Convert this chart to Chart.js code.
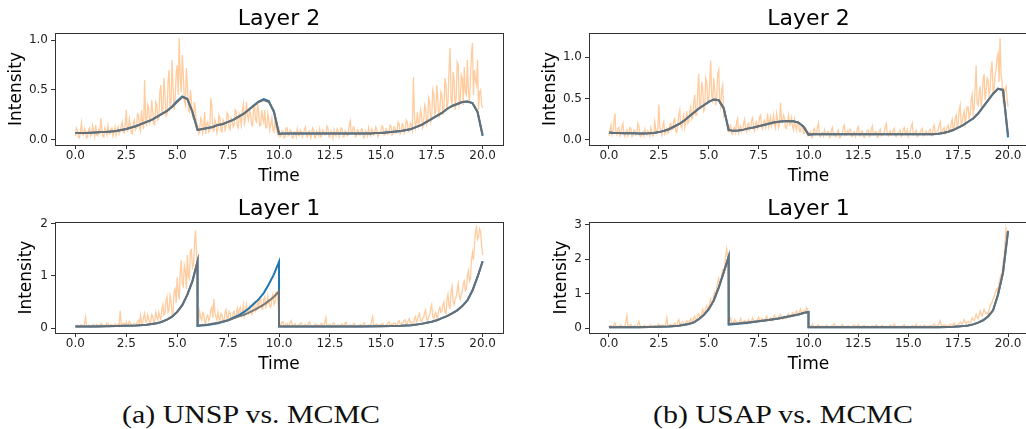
<!DOCTYPE html>
<html>
<head>
<meta charset="utf-8">
<script src="https://cdn.jsdelivr.net/npm/chart.js@4.4.1/dist/chart.umd.min.js"></script>
<style>
  html, body { margin: 0; padding: 0; background: #fff; overflow: hidden; }
  body { width: 1026px; height: 429px; position: relative; }
  canvas { position: absolute; }
  .caption {
    position: absolute; top: 402px; line-height: 26px; width: 400px;
    font-family: 'Liberation Serif', serif; font-size: 26px; color: #111;
    text-align: center; transform: scaleX(1.15);
  }
</style>
</head>
<body>
<canvas id="tl" width="510" height="190" style="left:0;top:0"></canvas>
<canvas id="tr" width="500" height="190" style="left:535px;top:0"></canvas>
<canvas id="bl" width="510" height="188" style="left:0;top:190px"></canvas>
<canvas id="br" width="500" height="188" style="left:535px;top:190px"></canvas>
<div class="caption" style="left:51px">(a) UNSP vs. MCMC</div>
<div class="caption" style="left:583px">(b) USAP vs. MCMC</div>
<script>
// sampling grids (time axis)
const sampleTimes = Array.from({ length: 401 }, (_, i) => i / 20);
const layer2CurveTimes = Array.from({ length: 81 }, (_, i) => i / 4);
const layer1CurveTimes = [0, 0.5, 1, 1.5, 2, 2.5, 3, 3.5, 4, 4.25, 4.5, 4.75, 5, 5.25, 5.5, 5.75, 6,
  6, 6.5, 7, 7.5, 8, 8.25, 8.5, 8.75, 9, 9.25, 9.5, 9.75, 10,
  10, 11, 12, 13, 14, 15, 16, 16.5, 17, 17.25, 17.5, 17.75, 18, 18.25, 18.5, 18.75, 19, 19.25, 19.5, 19.75, 20];

const xTicks = [0, 2.5, 5, 7.5, 10, 12.5, 15, 17.5, 20];
const layer2Ticks = [0, 0.5, 1.0];
const unspLayer1Ticks = [0, 1, 2];
const usapLayer1Ticks = [0, 1, 2, 3];

// (a) UNSP, layer 2  (one row per time unit)
const unspL2Samples = [
  0.04,0.12,0.10,0.03,0.02,0.09,0.17,0.05,0.05,0.11,0.08,0.02,0.03,0.10,0.12,0.04,0.06,0.14,0.09,0.03,
  0.15,0.05,0.04,0.10,0.07,0.22,0.11,0.04,0.03,0.12,0.09,0.05,0.14,0.07,0.06,0.11,0.12,0.04,0.08,0.13,
  0.05,0.10,0.13,0.06,0.09,0.14,0.18,0.08,0.07,0.16,0.30,0.09,0.10,0.21,0.14,0.07,0.06,0.17,0.20,0.10,
  0.12,0.26,0.25,0.13,0.09,0.30,0.18,0.11,0.60,0.22,0.14,0.35,0.32,0.17,0.20,0.40,0.28,0.16,0.15,0.38,
  0.35,0.20,0.22,0.48,0.55,0.28,0.30,0.62,0.45,0.24,0.25,0.58,0.70,0.33,0.38,0.80,0.52,0.30,0.42,0.66,
  0.75,0.45,1.02,0.60,0.48,0.85,0.65,0.40,0.35,0.72,0.55,0.30,0.28,0.50,0.40,0.22,0.22,0.38,0.30,0.12,
  0.15,0.06,0.08,0.22,0.20,0.07,0.12,0.28,0.06,0.15,0.18,0.08,0.10,0.42,0.35,0.10,0.09,0.20,0.16,0.07,
  0.12,0.25,0.22,0.09,0.08,0.20,0.18,0.10,0.14,0.27,0.25,0.12,0.10,0.22,0.20,0.13,0.15,0.30,0.28,0.14,
  0.12,0.26,0.22,0.15,0.30,0.36,0.16,0.20,0.38,0.25,0.20,0.30,0.26,0.15,0.14,0.32,0.34,0.20,0.18,0.36,
  0.28,0.14,0.15,0.30,0.22,0.18,0.30,0.12,0.12,0.26,0.20,0.10,0.16,0.22,0.10,0.08,0.18,0.12,0.08,0.05,
  0.10,0.03,0.04,0.09,0.08,0.02,0.03,0.12,0.12,0.04,0.05,0.10,0.09,0.02,0.02,0.08,0.07,0.03,0.11,0.05,
  0.04,0.10,0.08,0.03,0.06,0.11,0.13,0.04,0.03,0.08,0.09,0.02,0.05,0.12,0.10,0.03,0.02,0.09,0.07,0.04,
  0.11,0.03,0.04,0.10,0.08,0.05,0.05,0.14,0.12,0.03,0.03,0.09,0.07,0.02,0.10,0.06,0.04,0.11,0.09,0.03,
  0.06,0.12,0.11,0.03,0.03,0.09,0.08,0.04,0.05,0.15,0.19,0.06,0.07,0.13,0.12,0.03,0.04,0.10,0.09,0.05,
  0.05,0.11,0.10,0.02,0.03,0.09,0.08,0.04,0.12,0.06,0.04,0.11,0.09,0.05,0.06,0.13,0.11,0.03,0.05,0.08,
  0.08,0.14,0.13,0.05,0.05,0.11,0.10,0.06,0.07,0.15,0.14,0.05,0.06,0.13,0.12,0.07,0.09,0.18,0.16,0.06,
  0.08,0.16,0.14,0.07,0.11,0.20,0.18,0.08,0.09,0.17,0.15,0.10,0.63,0.25,0.12,0.18,0.28,0.14,0.18,0.30,
  0.24,0.12,0.15,0.35,0.32,0.16,0.20,0.42,0.38,0.18,0.22,0.50,0.45,0.25,0.28,0.55,0.40,0.22,0.30,0.48,
  0.45,0.25,0.32,0.62,0.55,0.30,0.38,0.70,0.92,0.40,0.35,0.68,0.60,0.30,0.42,0.78,0.75,0.35,0.40,0.65,
  0.62,0.35,0.73,0.48,0.45,0.80,0.50,0.38,0.60,0.85,0.97,0.45,0.70,0.60,0.55,0.80,0.30,0.48,0.50,0.35,
  0.32
];
const unspL2Blue = [
  0.07,0.07,0.07,0.072,0.075,0.078,0.08,0.085,0.09,0.10,
  0.11,0.125,0.14,0.16,0.18,0.20,0.23,0.26,0.29,0.335,
  0.39,0.435,0.41,0.28,0.10,0.11,0.12,0.13,0.15,0.16,
  0.18,0.20,0.23,0.26,0.30,0.345,0.385,0.41,0.39,0.28,
  0.06,0.065,0.065,0.065,0.065,0.065,0.065,0.065,0.065,0.065,
  0.065,0.065,0.065,0.065,0.065,0.065,0.065,0.065,0.065,0.068,
  0.07,0.075,0.08,0.085,0.09,0.10,0.11,0.13,0.15,0.18,
  0.21,0.24,0.27,0.31,0.34,0.36,0.38,0.385,0.37,0.28,
  0.04
];
const unspL2Gray = [
  0.07,0.07,0.07,0.072,0.075,0.078,0.08,0.085,0.09,0.10,
  0.11,0.125,0.14,0.16,0.18,0.20,0.23,0.26,0.29,0.33,
  0.38,0.43,0.41,0.28,0.10,0.11,0.12,0.13,0.15,0.16,
  0.18,0.20,0.23,0.26,0.30,0.34,0.38,0.40,0.38,0.29,
  0.065,0.065,0.065,0.065,0.065,0.065,0.065,0.065,0.065,0.065,
  0.065,0.065,0.065,0.065,0.065,0.065,0.065,0.065,0.065,0.068,
  0.07,0.075,0.08,0.085,0.09,0.10,0.11,0.13,0.15,0.18,
  0.21,0.24,0.27,0.31,0.34,0.36,0.38,0.385,0.37,0.28,
  0.05
];

// (b) USAP, layer 2
const usapL2Samples = [
  0.05,0.12,0.18,0.06,0.10,0.22,0.32,0.08,0.06,0.14,0.15,0.05,0.08,0.16,0.20,0.07,0.04,0.10,0.12,0.05,
  0.09,0.15,0.14,0.04,0.05,0.12,0.11,0.06,0.07,0.20,0.16,0.05,0.04,0.09,0.10,0.05,0.13,0.08,0.06,0.11,
  0.09,0.05,0.15,0.10,0.05,0.08,0.22,0.12,0.08,0.14,0.43,0.15,0.11,0.06,0.18,0.22,0.07,0.10,0.14,0.08,
  0.10,0.18,0.20,0.12,0.13,0.24,0.26,0.10,0.09,0.18,0.30,0.36,0.18,0.14,0.24,0.30,0.15,0.22,0.35,0.20,
  0.22,0.34,0.40,0.25,0.28,0.45,0.55,0.30,0.30,0.60,0.80,0.40,0.42,0.70,0.62,0.35,0.38,0.75,0.70,0.45,
  0.48,0.70,0.96,0.55,0.45,0.75,0.60,0.42,0.52,0.80,0.85,0.48,0.40,0.60,0.66,0.30,0.35,0.28,0.25,0.12,
  0.10,0.16,0.18,0.08,0.07,0.14,0.15,0.09,0.22,0.26,0.09,0.14,0.17,0.10,0.12,0.20,0.25,0.13,0.10,0.18,
  0.20,0.12,0.14,0.24,0.27,0.15,0.11,0.20,0.22,0.14,0.18,0.28,0.30,0.16,0.13,0.22,0.24,0.15,0.20,0.32,
  0.16,0.22,0.28,0.17,0.21,0.30,0.18,0.14,0.32,0.24,0.15,0.20,0.45,0.25,0.22,0.30,0.26,0.15,0.14,0.22,
  0.30,0.18,0.20,0.27,0.16,0.12,0.25,0.18,0.12,0.20,0.22,0.10,0.10,0.18,0.18,0.08,0.08,0.14,0.12,0.05,
  0.05,0.09,0.10,0.03,0.03,0.12,0.14,0.06,0.07,0.16,0.20,0.05,0.04,0.08,0.09,0.05,0.12,0.07,0.06,0.10,
  0.10,0.03,0.04,0.12,0.15,0.06,0.08,0.04,0.05,0.10,0.12,0.03,0.03,0.07,0.09,0.16,0.18,0.05,0.06,0.11,
  0.08,0.12,0.13,0.05,0.04,0.09,0.10,0.04,0.07,0.14,0.16,0.05,0.05,0.10,0.11,0.04,0.03,0.07,0.08,0.12,
  0.12,0.04,0.05,0.14,0.17,0.06,0.07,0.10,0.10,0.03,0.04,0.11,0.13,0.05,0.06,0.08,0.09,0.16,0.20,0.07,
  0.05,0.09,0.11,0.06,0.07,0.12,0.14,0.05,0.04,0.08,0.09,0.10,0.12,0.04,0.06,0.13,0.15,0.07,0.08,0.12,
  0.04,0.08,0.10,0.16,0.20,0.06,0.07,0.10,0.12,0.04,0.05,0.08,0.09,0.12,0.14,0.05,0.06,0.09,0.11,0.07,
  0.08,0.11,0.13,0.06,0.05,0.15,0.18,0.08,0.09,0.10,0.12,0.18,0.22,0.09,0.10,0.13,0.15,0.08,0.11,0.16,
  0.18,0.10,0.12,0.20,0.25,0.12,0.15,0.26,0.30,0.16,0.20,0.35,0.42,0.18,0.22,0.30,0.35,0.20,0.28,0.40,
  0.40,0.26,0.30,0.48,0.55,0.32,0.38,0.62,0.90,0.45,0.42,0.55,0.65,0.40,0.50,0.72,0.80,0.48,0.58,0.75,
  0.72,0.55,0.60,0.85,0.95,0.58,0.62,0.78,0.85,1.00,1.05,0.70,1.23,0.80,0.70,0.45,0.55,0.62,0.65,0.50,
  0.40
];
const usapL2Blue = [
  0.09,0.085,0.085,0.08,0.08,0.08,0.078,0.078,0.08,0.085,
  0.095,0.11,0.13,0.16,0.19,0.23,0.28,0.33,0.38,0.42,
  0.46,0.49,0.48,0.38,0.12,0.11,0.115,0.125,0.14,0.15,
  0.165,0.18,0.195,0.21,0.22,0.227,0.23,0.225,0.21,0.16,
  0.065,0.07,0.07,0.07,0.07,0.07,0.07,0.07,0.07,0.07,
  0.07,0.07,0.07,0.07,0.07,0.07,0.07,0.07,0.07,0.07,
  0.07,0.07,0.07,0.07,0.07,0.07,0.075,0.085,0.10,0.12,
  0.15,0.18,0.22,0.26,0.32,0.40,0.48,0.56,0.62,0.60,
  0.03
];
const usapL2Gray = [
  0.09,0.085,0.085,0.08,0.08,0.08,0.078,0.078,0.08,0.085,
  0.095,0.11,0.13,0.16,0.19,0.23,0.28,0.33,0.38,0.42,
  0.46,0.49,0.48,0.39,0.12,0.11,0.115,0.125,0.14,0.15,
  0.165,0.18,0.195,0.21,0.22,0.227,0.23,0.225,0.21,0.165,
  0.065,0.07,0.07,0.07,0.07,0.07,0.07,0.07,0.07,0.07,
  0.07,0.07,0.07,0.07,0.07,0.07,0.07,0.07,0.07,0.07,
  0.07,0.07,0.07,0.07,0.07,0.07,0.075,0.085,0.10,0.12,
  0.15,0.18,0.22,0.26,0.32,0.40,0.48,0.56,0.62,0.61,
  0.06
];

// (a) UNSP, layer 1
const unspL1Samples = [
  0.03,0.05,0.05,0.02,0.02,0.06,0.06,0.03,0.04,0.08,0.21,0.04,0.03,0.05,0.05,0.02,0.02,0.06,0.07,0.03,
  0.04,0.07,0.06,0.03,0.03,0.09,0.08,0.04,0.05,0.04,0.04,0.10,0.09,0.03,0.03,0.07,0.06,0.04,0.05,0.08,
  0.04,0.06,0.07,0.04,0.33,0.08,0.05,0.10,0.08,0.05,0.12,0.07,0.06,0.13,0.10,0.05,0.04,0.08,0.09,0.06,
  0.07,0.12,0.15,0.08,0.25,0.10,0.09,0.20,0.28,0.12,0.12,0.25,0.18,0.10,0.10,0.26,0.22,0.12,0.14,0.30,
  0.20,0.15,0.30,0.22,0.16,0.38,0.45,0.25,0.28,0.52,0.60,0.30,0.35,0.62,0.50,0.28,0.30,0.70,0.75,0.48,
  0.97,0.70,0.55,1.05,1.30,0.85,0.80,1.20,1.10,0.75,1.40,1.00,0.95,1.48,1.50,1.15,1.20,1.60,1.87,1.45,
  0.20,0.12,0.32,0.20,0.15,0.30,0.28,0.12,0.10,0.22,0.25,0.14,0.18,0.35,0.40,0.20,0.56,0.30,0.22,0.15,
  0.30,0.18,0.15,0.28,0.26,0.14,0.12,0.30,0.35,0.18,0.20,0.32,0.28,0.16,0.16,0.30,0.32,0.20,0.22,0.38,
  0.25,0.35,0.40,0.24,0.30,0.45,0.22,0.30,0.45,0.32,0.28,0.42,0.38,0.26,0.30,0.48,0.50,0.32,0.35,0.52,
  0.42,0.58,0.55,0.38,0.36,0.55,0.60,0.40,0.45,0.62,0.52,0.42,0.40,0.58,0.65,0.45,0.48,0.68,0.70,0.50,
  0.15,0.05,0.06,0.12,0.12,0.03,0.03,0.08,0.09,0.04,0.05,0.11,0.14,0.05,0.04,0.07,0.08,0.02,0.03,0.06,
  0.06,0.09,0.10,0.04,0.03,0.06,0.07,0.03,0.04,0.10,0.12,0.04,0.05,0.03,0.03,0.07,0.08,0.04,0.06,0.05,
  0.04,0.08,0.09,0.03,0.03,0.12,0.20,0.04,0.05,0.06,0.07,0.03,0.03,0.09,0.10,0.04,0.04,0.05,0.06,0.03,
  0.03,0.07,0.08,0.04,0.05,0.10,0.11,0.03,0.03,0.05,0.06,0.04,0.04,0.08,0.09,0.03,0.05,0.04,0.03,0.06,
  0.07,0.03,0.04,0.09,0.10,0.04,0.03,0.05,0.06,0.04,0.05,0.14,0.22,0.05,0.04,0.07,0.08,0.04,0.05,0.06,
  0.06,0.08,0.09,0.04,0.04,0.06,0.07,0.10,0.12,0.06,0.05,0.07,0.08,0.09,0.10,0.05,0.06,0.12,0.14,0.08,
  0.07,0.10,0.11,0.14,0.16,0.08,0.09,0.15,0.18,0.10,0.12,0.08,0.08,0.18,0.22,0.12,0.15,0.24,0.28,0.14,
  0.12,0.18,0.20,0.30,0.35,0.16,0.15,0.22,0.25,0.38,0.45,0.22,0.18,0.26,0.30,0.20,0.22,0.35,0.40,0.30,
  0.32,0.45,0.50,0.30,0.28,0.55,0.65,0.42,0.38,0.70,0.80,0.50,0.45,0.55,0.60,0.72,0.85,0.62,0.55,0.65,
  0.70,0.85,0.90,0.72,0.75,1.00,1.10,0.90,0.95,1.30,1.45,1.30,1.60,1.85,1.93,1.70,1.75,1.90,1.85,1.60,
  1.40
];
const unspL1Blue = [
  0.03,0.03,0.032,0.035,0.038,0.042,0.05,0.065,0.09,0.12,0.16,0.22,0.31,0.44,0.64,0.90,1.28,
  0.04,0.06,0.09,0.15,0.24,0.30,0.37,0.46,0.55,0.67,0.84,1.03,1.27,
  0.03,0.03,0.03,0.03,0.032,0.036,0.045,0.055,0.08,0.10,0.12,0.15,0.19,0.23,0.28,0.34,0.42,0.53,0.72,0.98,1.28
];
const unspL1Gray = [
  0.03,0.03,0.032,0.035,0.038,0.042,0.05,0.065,0.09,0.12,0.16,0.22,0.31,0.44,0.64,0.90,1.28,
  0.05,0.07,0.10,0.15,0.22,0.25,0.29,0.34,0.39,0.45,0.52,0.60,0.70,
  0.03,0.03,0.03,0.03,0.032,0.036,0.045,0.055,0.08,0.10,0.12,0.15,0.19,0.23,0.28,0.34,0.42,0.53,0.72,0.98,1.28
];

// (b) USAP, layer 1
const usapL1Samples = [
  0.03,0.06,0.08,0.03,0.02,0.10,0.15,0.06,0.05,0.04,0.04,0.08,0.10,0.05,0.03,0.05,0.06,0.20,0.37,0.08,
  0.05,0.09,0.12,0.05,0.04,0.06,0.08,0.04,0.03,0.12,0.20,0.08,0.06,0.05,0.04,0.07,0.09,0.04,0.03,0.06,
  0.05,0.08,0.10,0.05,0.04,0.06,0.07,0.04,0.03,0.08,0.12,0.07,0.06,0.08,0.09,0.05,0.04,0.12,0.30,0.08,
  0.06,0.09,0.11,0.07,0.08,0.12,0.15,0.09,0.07,0.18,0.25,0.14,0.12,0.16,0.18,0.12,0.10,0.16,0.22,0.18,
  0.15,0.22,0.28,0.18,0.20,0.30,0.35,0.24,0.25,0.36,0.42,0.32,0.30,0.45,0.55,0.40,0.45,0.58,0.65,0.55,
  0.60,0.75,0.85,0.70,0.75,0.95,1.05,0.95,1.20,1.35,1.45,1.30,1.30,1.55,1.70,1.65,1.80,2.10,2.30,2.05,
  0.15,0.22,0.30,0.16,0.12,0.18,0.25,0.20,0.18,0.15,0.14,0.20,0.28,0.18,0.16,0.20,0.22,0.15,0.12,0.18,
  0.25,0.18,0.15,0.22,0.30,0.22,0.20,0.16,0.18,0.26,0.32,0.24,0.22,0.28,0.26,0.20,0.20,0.28,0.35,0.26,
  0.25,0.28,0.30,0.24,0.22,0.32,0.38,0.30,0.28,0.26,0.32,0.36,0.40,0.30,0.26,0.32,0.35,0.28,0.30,0.38,
  0.42,0.36,0.32,0.40,0.45,0.38,0.38,0.46,0.50,0.42,0.40,0.48,0.55,0.46,0.45,0.50,0.52,0.48,0.60,0.55,
  0.08,0.05,0.04,0.08,0.12,0.05,0.03,0.05,0.06,0.08,0.10,0.06,0.04,0.05,0.07,0.04,0.03,0.06,0.09,0.05,
  0.05,0.04,0.03,0.06,0.08,0.10,0.12,0.06,0.04,0.05,0.06,0.04,0.03,0.08,0.10,0.06,0.05,0.04,0.04,0.06,
  0.07,0.04,0.03,0.04,0.05,0.08,0.09,0.05,0.04,0.07,0.11,0.06,0.03,0.04,0.06,0.07,0.08,0.05,0.04,0.06,
  0.05,0.04,0.03,0.05,0.07,0.05,0.04,0.07,0.10,0.06,0.05,0.04,0.03,0.06,0.08,0.05,0.04,0.05,0.06,0.04,
  0.03,0.06,0.09,0.05,0.05,0.08,0.12,0.06,0.04,0.05,0.06,0.04,0.03,0.05,0.07,0.08,0.10,0.06,0.04,0.05,
  0.06,0.04,0.03,0.05,0.08,0.06,0.05,0.08,0.11,0.06,0.04,0.05,0.07,0.05,0.03,0.06,0.09,0.07,0.05,0.06,
  0.04,0.06,0.08,0.07,0.06,0.09,0.12,0.08,0.05,0.07,0.09,0.15,0.22,0.10,0.06,0.08,0.10,0.08,0.07,0.06,
  0.05,0.08,0.12,0.10,0.08,0.12,0.15,0.10,0.06,0.08,0.10,0.14,0.18,0.14,0.12,0.18,0.25,0.18,0.14,0.18,
  0.20,0.16,0.15,0.22,0.30,0.25,0.22,0.30,0.40,0.32,0.28,0.38,0.50,0.40,0.35,0.45,0.55,0.48,0.42,0.45,
  0.40,0.55,0.65,0.70,0.75,0.85,0.90,1.00,1.10,1.15,1.05,1.30,1.45,1.55,1.60,1.90,2.10,2.50,2.90,2.75,
  2.85
];
const usapL1Blue = [
  0.03,0.03,0.03,0.03,0.035,0.04,0.05,0.07,0.12,0.17,0.26,0.38,0.55,0.80,1.18,1.62,2.08,
  0.10,0.13,0.16,0.20,0.24,0.26,0.28,0.31,0.34,0.37,0.40,0.44,0.47,
  0.03,0.03,0.03,0.03,0.03,0.03,0.03,0.03,0.035,0.04,0.05,0.06,0.08,0.11,0.16,0.23,0.34,0.52,0.98,1.62,2.82
];
const usapL1Gray = [
  0.03,0.03,0.03,0.03,0.035,0.04,0.05,0.07,0.12,0.17,0.26,0.38,0.55,0.80,1.18,1.62,2.08,
  0.12,0.14,0.17,0.20,0.24,0.26,0.28,0.31,0.34,0.37,0.40,0.44,0.47,
  0.03,0.03,0.03,0.03,0.03,0.03,0.03,0.03,0.035,0.04,0.05,0.06,0.08,0.11,0.16,0.23,0.34,0.52,0.98,1.62,2.82
];

const FONT = "'DejaVu Sans', sans-serif";
const toPoints = (times, values) => times.map((t, i) => ({ x: t, y: values[i] }));

// matplotlib-style closed axes box
const frameBox = {
  id: 'frameBox',
  afterDatasetsDraw(chart) {
    const { ctx, chartArea: a } = chart;
    ctx.save();
    ctx.strokeStyle = '#333';
    ctx.lineWidth = 1;
    ctx.strokeRect(Math.round(a.left) + 0.5, Math.round(a.top) + 0.5,
      Math.round(a.right - a.left), Math.round(a.bottom - a.top));
    ctx.restore();
  },
};

const initPanel = (id, title, p) => {
  const ctx = document.getElementById(id);
  new Chart(ctx, {
    type: 'line',
    data: {
      datasets: [
        {
          data: toPoints(sampleTimes, p.samples),
          borderColor: 'rgba(255,127,14,0.4)',
          borderWidth: 1.3,
          order: 2,
        },
        {
          data: toPoints(p.curveTimes, p.blue),
          borderColor: '#1f77b4',
          borderWidth: 2,
          order: 1,
        },
        {
          data: toPoints(p.curveTimes, p.gray),
          borderColor: 'rgba(110,110,110,0.9)',
          borderWidth: 2,
          order: 0,
        },
      ],
    },
    options: {
      responsive: false,
      animation: false,
      events: [],
      elements: { point: { radius: 0 }, line: { tension: 0 } },
      layout: { padding: { left: 0, right: 7, top: 0, bottom: 0 } },
      plugins: {
        legend: { display: false },
        tooltip: { enabled: false },
        title: {
          display: true,
          text: title,
          fullSize: false,
          color: '#000',
          font: { family: FONT, size: 22, weight: 'normal', lineHeight: 1.2 },
          padding: p.titlePad,
        },
      },
      scales: {
        x: {
          type: 'linear',
          min: -1,
          max: 21,
          afterBuildTicks: (axis) => { axis.ticks = xTicks.map((v) => ({ value: v })); },
          afterFit: (axis) => { axis.height = 45; },
          ticks: {
            padding: 0,
            color: '#222',
            font: { family: FONT, size: 12 },
            callback: (v) => v.toFixed(1),
            maxRotation: 0,
            autoSkip: false,
          },
          grid: { drawOnChartArea: false, drawTicks: true, tickLength: 4, color: '#333' },
          border: { display: false },
          title: {
            display: true,
            text: 'Time',
            color: '#000',
            font: { family: FONT, size: 17, lineHeight: 1.2 },
            padding: { top: p.xTitlePad, bottom: p.xTitlePad },
          },
        },
        y: {
          type: 'linear',
          min: p.yMin,
          max: p.yMax,
          afterBuildTicks: (axis) => { axis.ticks = p.yTicks.map((v) => ({ value: v })); },
          afterFit: (axis) => { axis.width = p.yWidth; },
          ticks: {
            padding: 3,
            color: '#222',
            font: { family: FONT, size: 12 },
            callback: (v) => v.toFixed(p.yDigits),
          },
          grid: { drawOnChartArea: false, drawTicks: true, tickLength: 4, color: '#333' },
          border: { display: false },
          title: {
            display: true,
            text: 'Intensity',
            color: '#000',
            font: { family: FONT, size: 17, lineHeight: 1.2 },
            padding: { top: p.yTitlePad, bottom: p.yTitlePad },
          },
        },
      },
    },
    plugins: [frameBox],
  });
};

initPanel('tl', 'Layer 2', {
  samples: unspL2Samples, curveTimes: layer2CurveTimes, blue: unspL2Blue, gray: unspL2Gray,
  yMin: -0.051, yMax: 1.071, yTicks: layer2Ticks, yDigits: 1, yWidth: 55,
  titlePad: { top: 6.3, bottom: 0.3 }, xTitlePad: 3.3, yTitlePad: 6.3,
});
initPanel('tr', 'Layer 2', {
  samples: usapL2Samples, curveTimes: layer2CurveTimes, blue: usapL2Blue, gray: usapL2Gray,
  yMin: -0.061, yMax: 1.294, yTicks: layer2Ticks, yDigits: 1, yWidth: 54,
  titlePad: { top: 6.3, bottom: 0.3 }, xTitlePad: 3.3, yTitlePad: 5.8,
});
initPanel('bl', 'Layer 1', {
  samples: unspL1Samples, curveTimes: layer1CurveTimes, blue: unspL1Blue, gray: unspL1Gray,
  yMin: -0.095, yMax: 2.03, yTicks: unspLayer1Ticks, yDigits: 0, yWidth: 55,
  titlePad: { top: 5.8, bottom: 0 }, xTitlePad: 2.8, yTitlePad: 16.8,
});
initPanel('br', 'Layer 1', {
  samples: usapL1Samples, curveTimes: layer1CurveTimes, blue: usapL1Blue, gray: usapL1Gray,
  yMin: -0.14, yMax: 3.08, yTicks: usapLayer1Ticks, yDigits: 0, yWidth: 54,
  titlePad: { top: 5.8, bottom: 0 }, xTitlePad: 2.8, yTitlePad: 16.5,
});
</script>
</body>
</html>
